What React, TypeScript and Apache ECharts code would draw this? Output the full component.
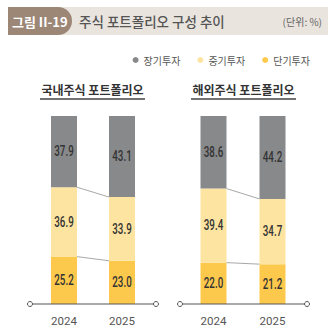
import React, { useEffect, useRef } from "react";
import * as echarts from "echarts";

const years = ["2024", "2025"];
const seriesNames = ["장기투자", "중기투자", "단기투자"];
// Domestic (국내주식)
const domLong = [37.9, 43.1];
const domMid = [36.9, 33.9];
const domShort = [25.2, 23.0];
// Overseas (해외주식)
const ovsLong = [38.6, 44.2];
const ovsMid = [39.4, 34.7];
const ovsShort = [22.0, 21.2];

const colors = { long: "#88898b", mid: "#fee4a1", short: "#fdc94c" };
const numFont = "Roboto, sans-serif";
const krFont = "'Noto Sans CJK KR', sans-serif";
const BAR_W = 26;

function App() {
  const ref = useRef<HTMLDivElement>(null);
  useEffect(() => {
    const chart = echarts.init(ref.current!, null, { renderer: "svg" });
    const mkBars = (idx: number, long: number[], mid: number[], short: number[]) =>
      [
        { name: seriesNames[2], data: short, color: colors.short },
        { name: seriesNames[1], data: mid, color: colors.mid },
        { name: seriesNames[0], data: long, color: colors.long },
      ].map((s) => ({
        type: "bar",
        name: s.name,
        stack: "s" + idx,
        xAxisIndex: idx,
        yAxisIndex: idx,
        barWidth: BAR_W,
        data: s.data,
        itemStyle: { color: s.color },
      }));
    // value labels in a condensed style, placed through the axes' own scales
    const mkLabels = (idx: number, long: number[], mid: number[], short: number[]) => {
      const items: { cat: number; mid: number; v: number }[] = [];
      for (let i = 0; i < years.length; i++) {
        let base = 0;
        for (const arr of [short, mid, long]) {
          items.push({ cat: i, mid: base + arr[i] / 2, v: arr[i] });
          base += arr[i];
        }
      }
      return {
        type: "custom",
        xAxisIndex: idx,
        yAxisIndex: idx,
        silent: true,
        z: 6,
        data: items.map((it) => [it.cat, it.mid]),
        renderItem: (params: any, api: any) => {
          const it = items[params.dataIndex];
          const p = api.coord([it.cat, it.mid]);
          return {
            type: "text",
            x: p[0],
            y: p[1],
            scaleX: 0.7,
            style: {
              x: 0,
              y: 0,
              text: it.v.toFixed(1),
              fill: "#333",
              font: `500 14px ${numFont}`,
              align: "center",
              verticalAlign: "middle",
            },
          };
        },
      };
    };
    const mkLinks = (idx: number, mid: number[], short: number[]) => {
      const pairs = [
        [short[0] + mid[0], short[1] + mid[1]],
        [short[0], short[1]],
      ];
      return {
        type: "custom",
        xAxisIndex: idx,
        yAxisIndex: idx,
        silent: true,
        data: pairs.map((p) => [0, p[0]]),
        renderItem: (params: any, api: any) => {
          const pr = pairs[params.dataIndex];
          const a = api.coord([0, pr[0]]);
          const b = api.coord([1, pr[1]]);
          return {
            type: "line",
            shape: { x1: a[0] + BAR_W / 2, y1: a[1], x2: b[0] - BAR_W / 2, y2: b[1] },
            style: { stroke: "#a8a8a8", lineWidth: 1 },
          };
        },
        z: 5,
      };
    };
    const axisX = (idx: number) => ({
      type: "category",
      gridIndex: idx,
      data: years,
      axisLine: { show: false },
      axisTick: { show: false },
      axisLabel: { color: "#555", fontSize: 11.5, fontFamily: numFont, margin: 11 },
    });
    const axisY = (idx: number) => ({ type: "value", gridIndex: idx, min: 0, max: 100, show: false });
    const axisDeco = (x1: number, x2: number, y: number) => [
      { type: "line", shape: { x1, y1: y, x2, y2: y }, style: { stroke: "#555", lineWidth: 1.2 }, z: 10 },
      { type: "circle", shape: { cx: x1, cy: y, r: 2.5 }, style: { fill: "#fff", stroke: "#555", lineWidth: 1 }, z: 11 },
      { type: "circle", shape: { cx: x2, cy: y, r: 2.5 }, style: { fill: "#fff", stroke: "#555", lineWidth: 1 }, z: 11 },
    ];
    chart.setOption({
      animation: false,
      grid: [
        { left: 35, width: 116, top: 116, bottom: 27 },
        { left: 184, width: 118, top: 116, bottom: 27 },
      ],
      xAxis: [axisX(0), axisX(1)],
      yAxis: [axisY(0), axisY(1)],
      legend: {
        data: seriesNames,
        right: 18,
        top: 50,
        icon: "circle",
        itemWidth: 6,
        itemHeight: 6,
        itemGap: 17,
        itemStyle: { borderWidth: 0 },
        textStyle: { color: "#555", fontSize: 10, fontFamily: krFont },
      },
      series: [
        ...mkBars(0, domLong, domMid, domShort),
        mkLinks(0, domMid, domShort),
        mkLabels(0, domLong, domMid, domShort),
        ...mkBars(1, ovsLong, ovsMid, ovsShort),
        mkLinks(1, ovsMid, ovsShort),
        mkLabels(1, ovsLong, ovsMid, ovsShort),
      ],
      graphic: [
        { type: "rect", shape: { x: 8, y: 7, width: 320, height: 28 }, style: { fill: "#e9e4de" } },
        { type: "rect", shape: { x: 8, y: 7, width: 64, height: 28, r: [0, 14, 14, 0] }, style: { fill: "#9c8676" } },
        { type: "text", x: 12, y: 21, style: { text: "그림 II-19", fill: "#fff", font: `bold 13px ${krFont}`, textVerticalAlign: "middle" } },
        { type: "text", x: 79, y: 21, style: { text: "주식 포트폴리오 구성 추이", fill: "#555", font: `500 13.5px ${krFont}`, textVerticalAlign: "middle" } },
        { type: "text", x: 322, y: 21, style: { text: "(단위: %)", fill: "#666", font: `10px ${krFont}`, textAlign: "right", textVerticalAlign: "middle" } },
        { type: "text", x: 92.5, y: 89, style: { text: "국내주식 포트폴리오", fill: "#333", font: `bold 12px ${krFont}`, textAlign: "center", textVerticalAlign: "middle" } },
        { type: "line", shape: { x1: 40, y1: 99, x2: 145, y2: 99 }, style: { stroke: "#444", lineWidth: 1.5 } },
        { type: "text", x: 243.5, y: 89, style: { text: "해외주식 포트폴리오", fill: "#333", font: `bold 12px ${krFont}`, textAlign: "center", textVerticalAlign: "middle" } },
        { type: "line", shape: { x1: 191, y1: 99, x2: 296, y2: 99 }, style: { stroke: "#444", lineWidth: 1.5 } },
        ...axisDeco(30, 156, 304),
        ...axisDeco(180, 307, 304),
      ],
    });
    return () => chart.dispose();
  }, []);
  return <div ref={ref} style={{ width: 333, height: 331, position: "absolute", left: 0, top: 0 }} />;
}

export default App;
